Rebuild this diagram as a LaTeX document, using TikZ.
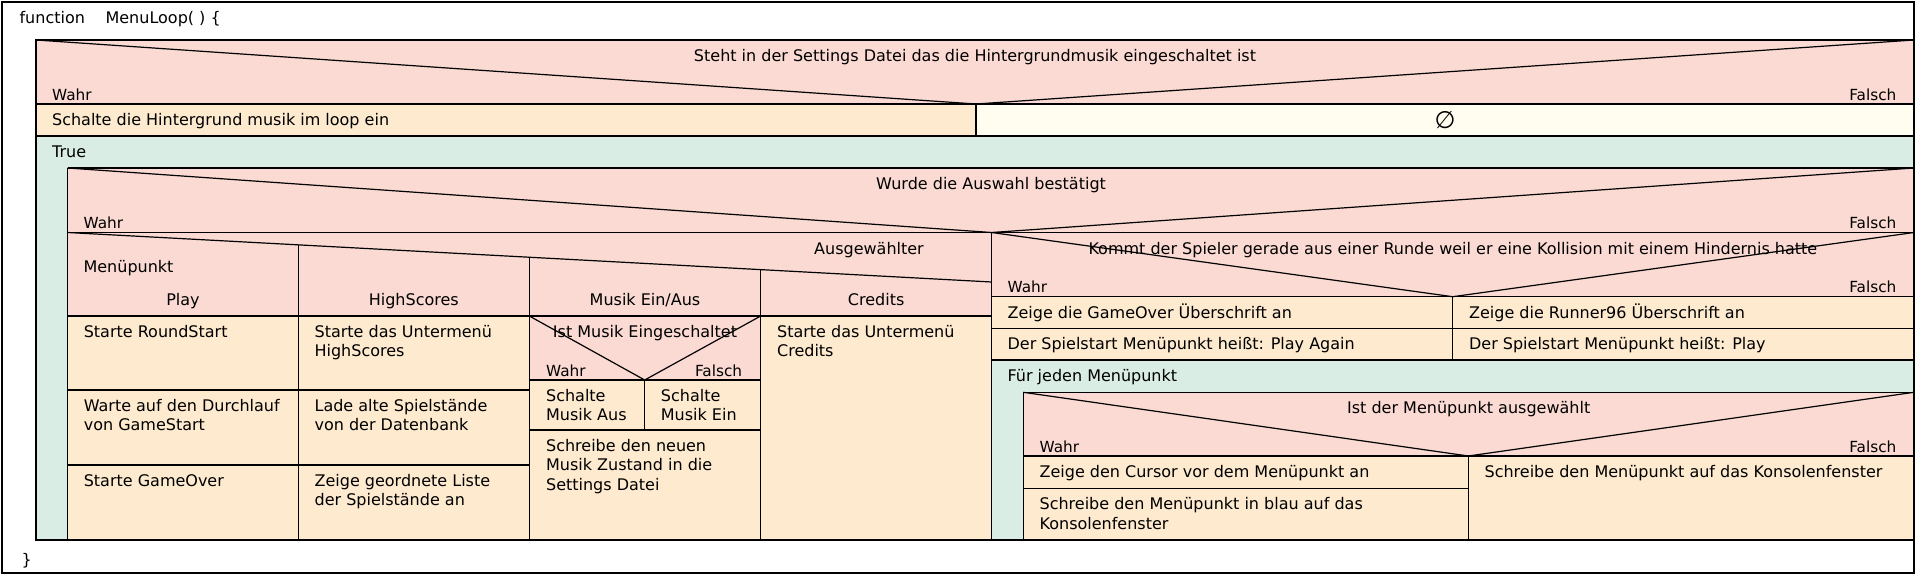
\documentclass[tikz,border=0pt]{standalone}
\usepackage{fontspec}
\setmainfont{DejaVu Sans}
\definecolor{ifpink}{HTML}{FADAD2}
\definecolor{instr}{HTML}{FDEACF}
\definecolor{loopg}{HTML}{DAEDE4}
\definecolor{emptyc}{HTML}{FFFDF0}
\newcommand\mlines[1]{\vtop{\baselineskip=19.3pt\lineskiplimit=-20pt\halign{##\hfil\cr#1\crcr}}}
\begin{document}
\begin{tikzpicture}[x=1pt,y=-1pt,line width=1.2pt,
  every node/.style={inner sep=0pt,font=\fontsize{16}{19.3}\selectfont},
  tl/.style={anchor=base west},
  tc/.style={anchor=base},
  tr/.style={anchor=base east},
  lbl/.style={font=\fontsize{15.3}{18}\selectfont},
  ifbox/.style={fill=ifpink},
  instrbox/.style={fill=instr},
  loopbox/.style={fill=loopg},
  emptybox/.style={fill=emptyc},
  thick frame/.style={line width=1.6pt}]
\useasboundingbox (0,0) rectangle (1920,579);
\fill[white] (0,0) rectangle (1920,579);
% ---------- fills
\fill[ifbox] (36,40) rectangle (1914,104);
\fill[instrbox] (36,104) rectangle (976,136);
\fill[emptybox] (976,104) rectangle (1914,136);
\fill[loopbox] (36,136) rectangle (1914,540);
\fill[ifbox] (67.7,168) rectangle (1914,232.5);
\fill[ifbox] (67.7,232.5) rectangle (991.7,316);
\fill[instrbox] (67.7,316) rectangle (991.7,540);
\fill[ifbox] (529.3,316) rectangle (760.7,380);
\fill[ifbox] (991.7,232.5) rectangle (1914,296.7);
\fill[instrbox] (991.7,296.7) rectangle (1914,360);
\fill[ifbox] (1023.3,392.3) rectangle (1914,456);
\fill[instrbox] (1023.3,456) rectangle (1914,540);
% ---------- lines
\draw (36,40) rectangle (1914,540);
\draw (36,104) -- (1914,104);
\draw (36,136) -- (1914,136);
\draw (36,40) -- (976,104) -- (1914,40);
\draw (976,104) -- (976,136);
% loop True
\draw (67.7,168) -- (1914,168);
\draw (67.7,168) -- (67.7,540);
% if 2
\draw (67.7,168) -- (991.7,232.5) -- (1914,168);
\draw (67.7,232.5) -- (1914,232.5);
% case
\draw (67.7,232.5) -- (991.7,282);
\draw (298.3,244.85) -- (298.3,540);
\draw (529.3,257.2) -- (529.3,540);
\draw (760.7,269.6) -- (760.7,540);
\draw (67.7,316) -- (991.7,316);
\draw (67.7,390) -- (529.3,390);
\draw (67.7,465) -- (529.3,465);
% musik if
\draw (529.3,316) -- (644.7,380) -- (760.7,316);
\draw (529.3,380) -- (760.7,380);
\draw (644.7,380) -- (644.7,430);
\draw (529.3,430) -- (760.7,430);
\draw (991.7,232.5) -- (991.7,540);
% if 3
\draw (991.7,232.5) -- (1452.7,296.7) -- (1914,232.5);
\draw (991.7,296.7) -- (1914,296.7);
\draw (991.7,328.3) -- (1914,328.3);
\draw (991.7,360) -- (1914,360);
\draw (1452.7,296.7) -- (1452.7,360);
% loop Fuer jeden
\draw (1023.3,392.3) -- (1914,392.3);
\draw (1023.3,392.3) -- (1023.3,540);
% if 4
\draw (1023.3,392.3) -- (1468.3,456) -- (1914,392.3);
\draw (1023.3,456) -- (1914,456);
\draw (1468.3,456) -- (1468.3,540);
\draw (1023.3,488.3) -- (1468.3,488.3);
\draw[line width=2pt] (36,540) -- (1914,540);
\draw[thick frame] (2,2) rectangle (1914,573);
% ---------- texts
\node[tl] (fn) at (19,23.5) {function};
\node[tl] (fname) at (105,23.5) {MenuLoop( ) \{};
\node[tl] (fend) at (21,565) {\}};
\node[tc] (c1) at (975,61.5) {Steht in der Settings Datei das die Hintergrundmusik eingeschaltet ist};
\node[tl,lbl] (w1) at (51.5,100) {Wahr};
\node[tr,lbl] (f1) at (1897,100) {Falsch};
\node[tl] (s1) at (51.5,125.5) {Schalte die Hintergrund musik im loop ein};
\node[anchor=center,font=\fontsize{24}{24}\selectfont] (e1) at (1445,120) {∅};
\node[tl] (l1) at (51.5,157.5) {True};
\node[tc] (c2) at (991,189.5) {Wurde die Auswahl bestätigt};
\node[tl,lbl] (w2) at (83,228.5) {Wahr};
\node[tr,lbl] (f2) at (1897,228.5) {Falsch};
\node[tc] (ca) at (869,254) {Ausgewählter};
\node[tl] (cm) at (83,272.7) {Menüpunkt};
\node[tc] (k1) at (183,305) {Play};
\node[tc] (k2) at (413.8,305) {HighScores};
\node[tc] (k3) at (645,305) {Musik Ein/Aus};
\node[tc] (k4) at (876.2,305) {Credits};
\node[tl] (p1) at (83.2,337.5) {Starte RoundStart};
\node[tl] (p2) at (83.2,411.5) {\mlines{Warte auf den Durchlauf\cr von GameStart}};
\node[tl] (p3) at (83.2,486.5) {Starte GameOver};
\node[tl] (h1) at (314,337.5) {\mlines{Starte das Untermenü\cr HighScores}};
\node[tl] (h2) at (314,411.5) {\mlines{Lade alte Spielstände\cr von der Datenbank}};
\node[tl] (h3) at (314,486.5) {\mlines{Zeige geordnete Liste\cr der Spielstände an}};
\node[tc] (mc) at (645,337.5) {Ist Musik Eingeschaltet};
\node[tl,lbl] (mw) at (545.5,376) {Wahr};
\node[tr,lbl] (mf) at (742.7,376) {Falsch};
\node[tl] (m1) at (545.5,401.5) {\mlines{Schalte\cr Musik Aus}};
\node[tl] (m2) at (660.3,401.5) {\mlines{Schalte\cr Musik Ein}};
\node[tl] (m3) at (545.5,451.5) {\mlines{Schreibe den neuen\cr Musik Zustand in die\cr Settings Datei}};
\node[tl] (cr) at (776.5,337.5) {\mlines{Starte das Untermenü\cr Credits}};
\node[tc] (c3) at (1452.9,254) {Kommt der Spieler gerade aus einer Runde weil er eine Kollision mit einem Hindernis hatte};
\node[tl,lbl] (w3) at (1007,292.7) {Wahr};
\node[tr,lbl] (f3) at (1897,292.7) {Falsch};
\node[tl] (g1) at (1007,318.2) {Zeige die GameOver Überschrift an};
\node[tl] (r1) at (1468.5,318.2) {Zeige die Runner96 Überschrift an};
\node[tl] (g2) at (1007,349.8) {Der Spielstart Menüpunkt heißt: Play Again};
\node[tl] (r2) at (1468.5,349.8) {Der Spielstart Menüpunkt heißt: Play};
\node[tl] (l2) at (1007,381.5) {Für jeden Menüpunkt};
\node[tc] (c4) at (1468.7,413.8) {Ist der Menüpunkt ausgewählt};
\node[tl,lbl] (w4) at (1039,452) {Wahr};
\node[tr,lbl] (f4) at (1897,452) {Falsch};
\node[tl] (a1) at (1039,477.5) {Zeige den Cursor vor dem Menüpunkt an};
\node[tl] (a2) at (1039,509.8) {\mlines{Schreibe den Menüpunkt in blau auf das\cr Konsolenfenster}};
\node[tl] (b1) at (1484,477.5) {Schreibe den Menüpunkt auf das Konsolenfenster};
\end{tikzpicture}
\end{document}
